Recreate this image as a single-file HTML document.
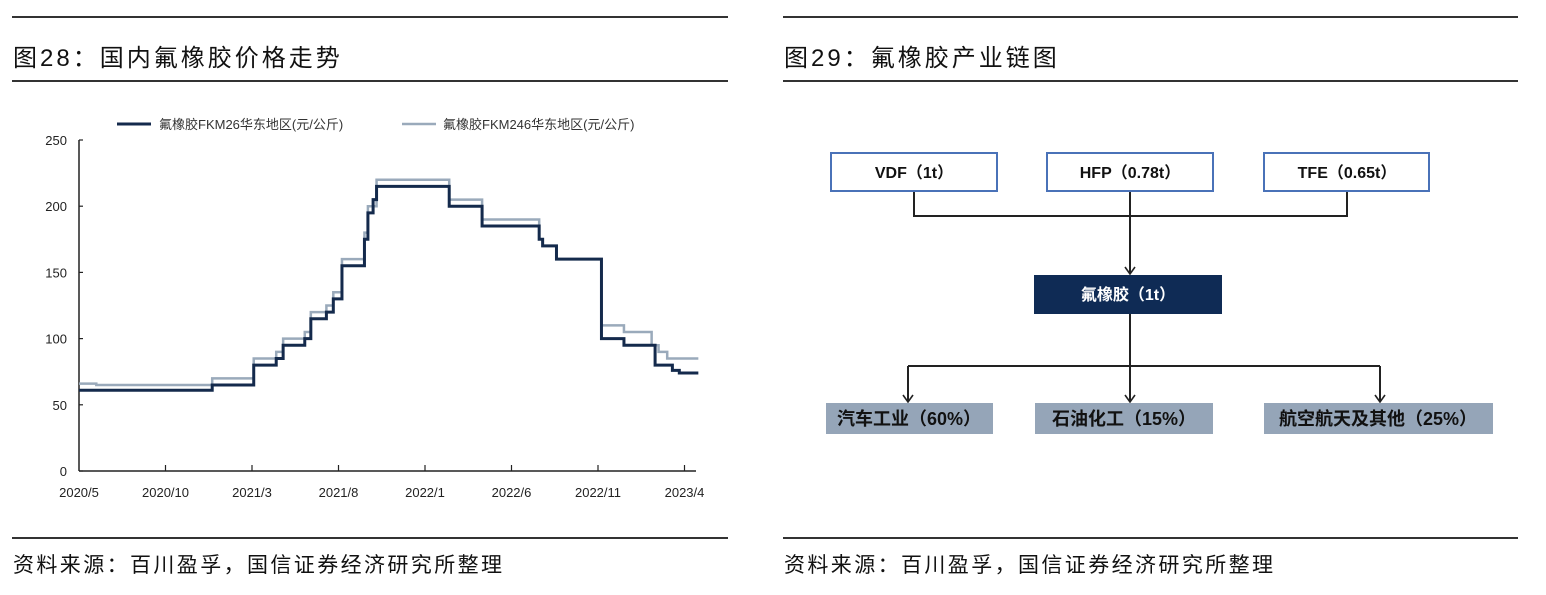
<!DOCTYPE html>
<html><head><meta charset="utf-8"><style>
body{margin:0;width:1546px;height:595px;background:#fff;position:relative;overflow:hidden;font-family:"Liberation Sans","Noto Sans CJK SC",sans-serif;color:#111}
.abs{position:absolute}
.rule{position:absolute;height:2px;background:#333}
.title{position:absolute;font-size:24px;line-height:28px;white-space:nowrap;letter-spacing:3px}
.src{position:absolute;font-size:21px;line-height:24px;white-space:nowrap;letter-spacing:2.4px}
</style></head><body>
<div class="rule" style="left:12px;top:16px;width:716px"></div>
<div class="title" style="left:13px;top:45px">图28：国内氟橡胶价格走势</div>
<div class="rule" style="left:12px;top:80px;width:716px"></div>
<div class="rule" style="left:12px;top:537px;width:716px"></div>
<div class="src" style="left:13px;top:554px">资料来源：百川盈孚，国信证券经济研究所整理</div>

<div class="rule" style="left:783px;top:16px;width:735px"></div>
<div class="title" style="left:784px;top:45px">图29：氟橡胶产业链图</div>
<div class="rule" style="left:783px;top:80px;width:735px"></div>
<div class="rule" style="left:783px;top:537px;width:735px"></div>
<div class="src" style="left:784px;top:554px">资料来源：百川盈孚，国信证券经济研究所整理</div>

<svg id="chart" class="abs" style="left:0;top:0" width="740" height="530"></svg>

<svg class="abs" style="left:0;top:0" width="1546" height="595">
<defs><marker id="ar" markerWidth="12" markerHeight="12" refX="10" refY="6" orient="auto" markerUnits="userSpaceOnUse"><path d="M3,1 L10,6 L3,11" fill="none" stroke="#222" stroke-width="1.6"/></marker></defs>
<g stroke="#222" stroke-width="2" fill="none">
<path d="M914,191 V216 H1347 V191"/>
<line x1="1130" y1="191" x2="1130" y2="274" marker-end="url(#ar)"/>
<line x1="1130" y1="314" x2="1130" y2="402" marker-end="url(#ar)"/>
<path d="M908,366 H1380"/>
<line x1="1380" y1="366" x2="1380" y2="402" marker-end="url(#ar)"/>
<line x1="908" y1="366" x2="908" y2="402" marker-end="url(#ar)"/>
</g>
<g fill="#fff" stroke="#4a72b8" stroke-width="2">
<rect x="831" y="153" width="166" height="38"/>
<rect x="1047" y="153" width="166" height="38"/>
<rect x="1264" y="153" width="165" height="38"/>
</g>
<rect x="1034" y="275" width="188" height="39" fill="#0f2b55"/>
<g fill="#95a5b8">
<rect x="826" y="403" width="167" height="31"/>
<rect x="1035" y="403" width="178" height="31"/>
<rect x="1264" y="403" width="229" height="31"/>
</g>
<g font-family="Liberation Sans, Noto Sans CJK SC, sans-serif" font-size="16" font-weight="bold" text-anchor="middle" fill="#111">
<text x="914" y="178">VDF（1t）</text>
<text x="1130" y="178">HFP（0.78t）</text>
<text x="1347" y="178">TFE（0.65t）</text>
<text x="1128" y="300" fill="#fff">氟橡胶（1t）</text>
<text x="909" y="425" font-size="18">汽车工业（60%）</text>
<text x="1124" y="425" font-size="18">石油化工（15%）</text>
<text x="1378" y="425" font-size="18">航空航天及其他（25%）</text>
</g>
</svg>

<script>
// Step series: month index since 2020/5, value in 元/公斤
const fkm26Months = [0,7.7,10.1,11.4,11.8,13.05,13.4,14.3,14.7,15.2,16.5,16.7,17.0,17.2,21.4,23.3,26.6,26.8,27.6,30.2,31.5,33.3,34.3,34.7,35.8];
const fkm26Values = [61,65,80,85,95,100,115,120,130,155,175,195,205,215,200,185,175,170,160,100,95,80,76,74,74];
const fkm246Months = [0,1,7.7,10.1,11.4,11.8,13.05,13.4,14.3,14.7,15.2,16.5,16.7,17.2,21.4,23.3,26.6,26.8,27.6,30.2,31.5,33.1,33.5,34.0,35.8];
const fkm246Values = [66,65,70,85,90,100,105,120,125,135,160,180,200,220,205,190,175,170,160,110,105,95,90,85,85];
const yTicks = [0,50,100,150,200,250];
const xTickLabels = ["2020/5","2020/10","2021/3","2021/8","2022/1","2022/6","2022/11","2023/4"];
const xTickMonths = [0,5,10,15,20,25,30,35];
const legendLabels = ["氟橡胶FKM26华东地区(元/公斤)","氟橡胶FKM246华东地区(元/公斤)"];

const svg = document.getElementById('chart');
const NS = 'http://www.w3.org/2000/svg';
const x0 = 79, pxPerMonth = 17.3, yBase = 471, yTop = 140;
const xs = m => x0 + m * pxPerMonth;
const ys = v => yBase - v * (yBase - yTop) / 250;
function mk(tag, attrs){const e=document.createElementNS(NS,tag);for(const k in attrs)e.setAttribute(k,attrs[k]);svg.appendChild(e);return e;}

const yAxis = mk('line',{x1:x0,y1:yTop,x2:x0,y2:yBase,stroke:'#222','stroke-width':1.5});


const xAxis = mk('line',{x1:x0,y1:yBase,x2:696,y2:yBase,stroke:'#222','stroke-width':1.5});



yTicks.forEach(v=>{
  const t = mk('line',{x1:x0,y1:ys(v),x2:x0+4,y2:ys(v),stroke:'#222','stroke-width':1.2});
  
  
  const l = mk('text',{x:x0-12,y:ys(v)+5,'text-anchor':'end','font-size':13,fill:'#222','font-family':'Liberation Sans, sans-serif'});
  l.textContent = v;
  
  
});
xTickLabels.forEach((lab,i)=>{
  const x = xs(xTickMonths[i]);
  if(i>0){
    const t = mk('line',{x1:x,y1:yBase,x2:x,y2:yBase-6,stroke:'#222','stroke-width':1.2});
    
    
  }
  const l = mk('text',{x:x,y:497,'text-anchor':'middle','font-size':13,fill:'#222','font-family':'Liberation Sans, sans-serif'});
  l.textContent = lab;
  
  
});

function stepPath(ms, vs){
  let d = 'M'+xs(ms[0])+','+ys(vs[0]);
  for(let i=1;i<ms.length;i++){
    d += ' H'+xs(ms[i])+' V'+ys(vs[i]);
  }
  return d;
}
const s2 = mk('path',{d:stepPath(fkm246Months,fkm246Values),fill:'none',stroke:'#9aaabb','stroke-width':2.5});


const s1 = mk('path',{d:stepPath(fkm26Months,fkm26Values),fill:'none',stroke:'#142a4c','stroke-width':3});



const lg1 = mk('line',{x1:117,y1:124,x2:151,y2:124,stroke:'#142a4c','stroke-width':3});


const lt1 = mk('text',{x:159,y:129,'font-size':13,fill:'#333','font-family':'Liberation Sans, Noto Sans CJK SC, sans-serif'});
lt1.textContent = legendLabels[0];


const lg2 = mk('line',{x1:402,y1:124,x2:436,y2:124,stroke:'#9aaabb','stroke-width':2.5});


const lt2 = mk('text',{x:443,y:129,'font-size':13,fill:'#333','font-family':'Liberation Sans, Noto Sans CJK SC, sans-serif'});
lt2.textContent = legendLabels[1];


</script>
</body></html>
